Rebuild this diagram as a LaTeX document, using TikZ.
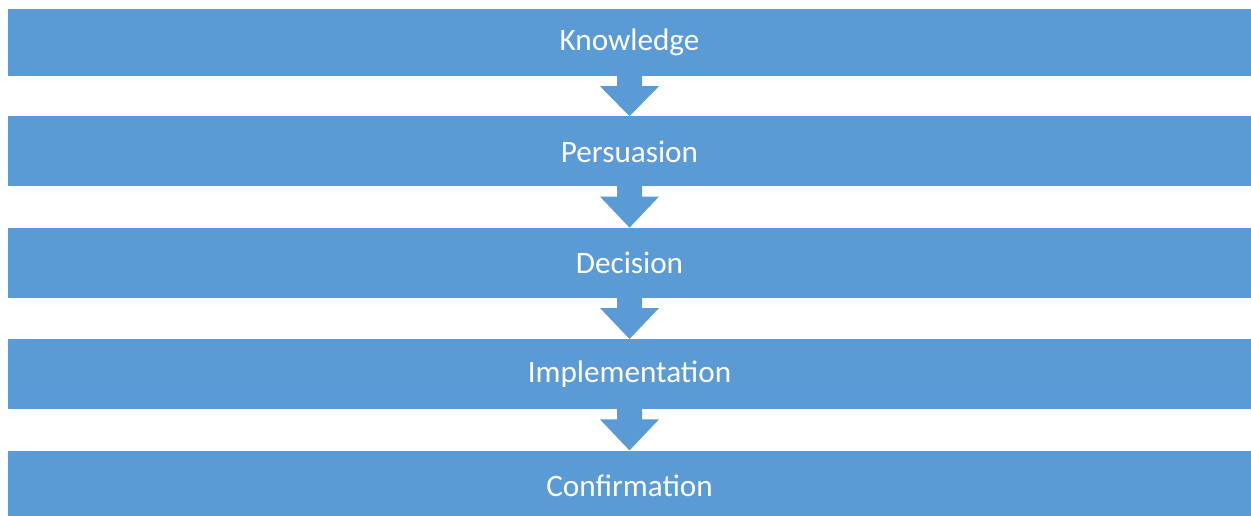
\documentclass[tikz,border=0pt]{standalone}
\usepackage{fontspec}
\setmainfont{Carlito}
\usetikzlibrary{positioning,calc}
\definecolor{barblue}{HTML}{5B9BD5}
\tikzset{
  >=latex,
}
\tikzstyle{stage}=[fill=barblue,text=white,minimum width=1243pt,minimum height=70pt,inner sep=0pt,font=\fontsize{31.2}{37}\selectfont]
\tikzstyle{blockarrow}=[fill=barblue]

\begin{document}
\begin{tikzpicture}[x=1pt,y=1pt,node distance=41pt]
        \useasboundingbox (0,0) rectangle (1251,-515);
        \node[stage,minimum height=67pt] (know) at (629.5,-42.5) {Knowledge};
        \node[stage,below=40pt of know] (pers) {Persuasion};
        \node[stage,below=of pers] (deci) {Decision};
        \node[stage,below=of deci] (impl) {Implementation};
        \node[stage,below=of impl] (conf) {Confirmation};
        \foreach \a/\b in {know/pers,pers/deci,deci/impl,impl/conf}
          \fill[blockarrow] ($(\a.south)+(-12.5,0.5)$) -- ($(\a.south)+(-12.5,-10)$)
            -- ($(\a.south)+(-29.5,-10)$) -- (\b.north) -- ($(\a.south)+(29.5,-10)$)
            -- ($(\a.south)+(12.5,-10)$) -- ($(\a.south)+(12.5,0.5)$) -- cycle;
      \end{tikzpicture}
\end{document}
